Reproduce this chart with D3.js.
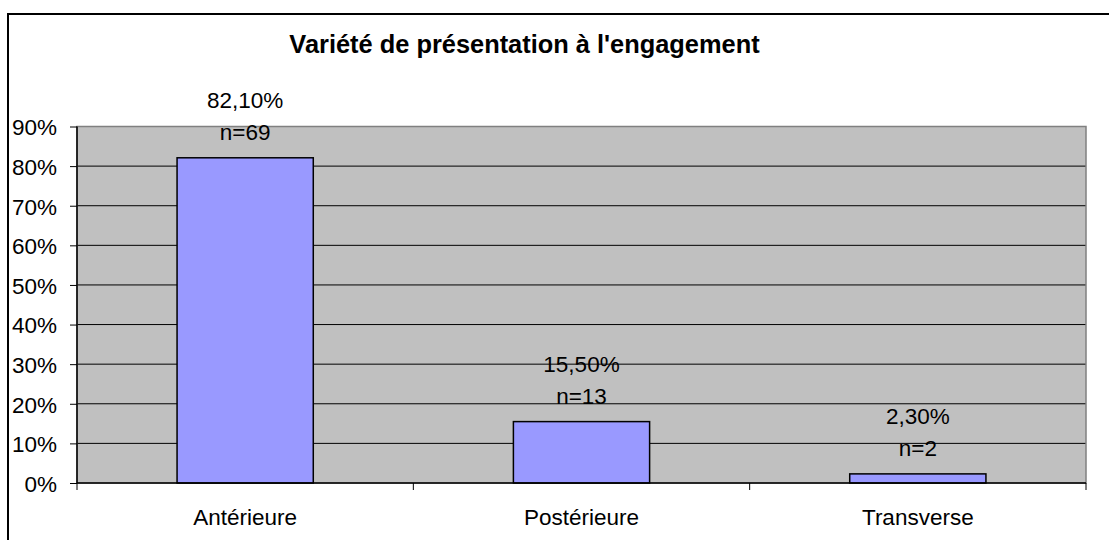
<!DOCTYPE html>
<html><head><meta charset="utf-8">
<script src="https://cdn.jsdelivr.net/npm/d3@7"></script>
<style>body{margin:0;background:#fff;} svg{display:block;font-family:Arial,"Liberation Sans",sans-serif;}</style>
</head><body>
<svg id="c" width="1109" height="540"></svg>
<script>
const title = "Variété de présentation à l'engagement";
const categories = ["Antérieure", "Postérieure", "Transverse"];
const values = [82.1, 15.5, 2.3];
const valueLabels = ["82,10%", "15,50%", "2,30%"];
const countLabels = ["n=69", "n=13", "n=2"];
const yTicks = [0, 10, 20, 30, 40, 50, 60, 70, 80, 90];

const svg = d3.select("#c");
const m = {left: 77, right: 1086, top: 126.5, bottom: 483};

// outer frame (only left & top visible)
svg.append("rect").attr("x", 8).attr("y", 14).attr("width", 1200).attr("height", 600)
  .attr("fill", "none").attr("stroke", "#000").attr("stroke-width", 2);

svg.append("text").attr("x", 524.5).attr("y", 53).attr("text-anchor", "middle")
  .attr("font-weight", "bold").attr("font-size", 25.4).text(title);

const x = d3.scaleBand().domain(categories).range([m.left, m.right]).paddingInner(0).paddingOuter(0);
const y = d3.scaleLinear().domain([0, 90]).range([m.bottom, m.top]);

svg.append("rect").attr("x", m.left).attr("y", m.top).attr("width", m.right - m.left)
  .attr("height", m.bottom - m.top).attr("fill", "#c0c0c0");

// gridlines
svg.append("g").selectAll("line").data(yTicks.filter(t => t > 0 && t < 90)).join("line")
  .attr("x1", m.left).attr("x2", m.right).attr("y1", d => y(d)).attr("y2", d => y(d))
  .attr("stroke", "#000").attr("stroke-width", 1);

// plot border
svg.append("rect").attr("x", m.left).attr("y", m.top).attr("width", m.right - m.left)
  .attr("height", m.bottom - m.top).attr("fill", "none").attr("stroke", "#808080").attr("stroke-width", 1.5);

// bars
const bw = x.bandwidth() * 0.405;
svg.append("g").selectAll("rect").data(values).join("rect")
  .attr("x", (d, i) => x(categories[i]) + x.bandwidth() / 2 - bw / 2)
  .attr("y", d => y(d)).attr("width", bw).attr("height", d => y(0) - y(d))
  .attr("fill", "#9999ff").attr("stroke", "#000").attr("stroke-width", 1.5);

// y axis
const ya = d3.axisLeft(y).tickValues(yTicks).tickFormat(d => d + "%").tickSize(7).tickPadding(13);
const yg = svg.append("g").attr("transform", `translate(${m.left},0)`).call(ya);
yg.select(".domain").attr("stroke", "#000").attr("stroke-width", 1.5).attr("d", `M0,${m.top}V${m.bottom}`);
yg.selectAll(".tick line").attr("stroke", "#000");
yg.selectAll(".tick text").attr("font-size", 22.5).attr("font-family", "Arial, 'Liberation Sans', sans-serif")
  .attr("fill", "#000").attr("dy", "0.37em");

// x axis
const xb = d3.scaleLinear().domain([0, 3]).range([m.left, m.right]);
const xg = svg.append("g").attr("transform", `translate(0,${m.bottom})`);
xg.append("line").attr("x1", m.left).attr("x2", m.right).attr("stroke", "#000").attr("stroke-width", 1.5);
xg.selectAll("line.t").data([0, 1, 2, 3]).join("line").attr("class", "t")
  .attr("x1", d => xb(d)).attr("x2", d => xb(d)).attr("y1", 0).attr("y2", 7).attr("stroke", "#000");
xg.selectAll("text").data(categories).join("text")
  .attr("x", d => x(d) + x.bandwidth() / 2).attr("y", 42).attr("text-anchor", "middle")
  .attr("font-size", 22.5).text(d => d);

// data labels
const lg = svg.append("g").attr("font-size", 22.5).attr("text-anchor", "middle");
lg.selectAll("text.v").data(values).join("text").attr("class", "v")
  .attr("x", (d, i) => x(categories[i]) + x.bandwidth() / 2).attr("y", d => y(d) - 50)
  .text((d, i) => valueLabels[i]);
lg.selectAll("text.n").data(values).join("text").attr("class", "n")
  .attr("x", (d, i) => x(categories[i]) + x.bandwidth() / 2).attr("y", d => y(d) - 18)
  .text((d, i) => countLabels[i]);
</script>
</body></html>
